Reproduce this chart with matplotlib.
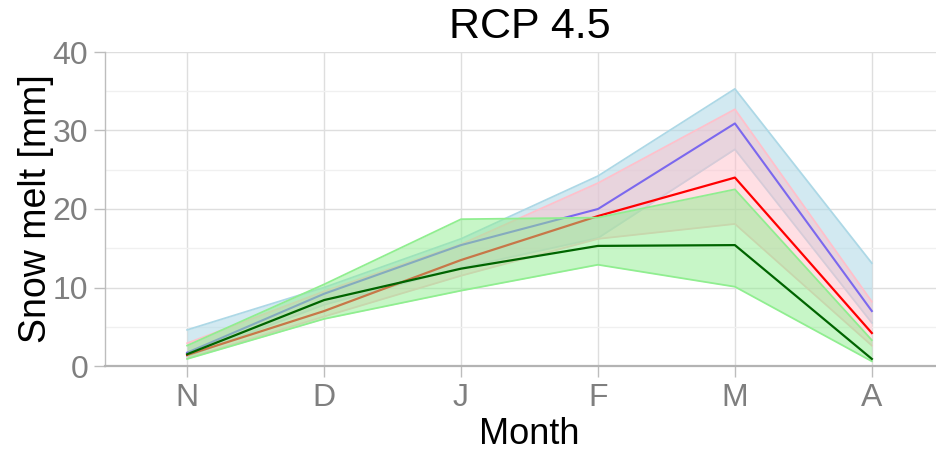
import numpy as np
import matplotlib.pyplot as plt
from matplotlib.ticker import MultipleLocator

# ----------------------------------------------------------------------
# Monthly snow melt, RCP 4.5 (median + range for three model groups)
# ----------------------------------------------------------------------
months = ["N", "D", "J", "F", "M", "A"]

purple_mid = [1.7, 9.2, 15.4, 20.0, 30.9, 7.0]
blue_low = [1.2, 7.8, 12.5, 16.3, 27.6, 5.5]
blue_high = [4.6, 10.0, 16.2, 24.2, 35.3, 13.1]

red_mid = [1.4, 7.0, 13.5, 19.1, 24.0, 4.2]
pink_low = [1.0, 6.3, 11.5, 16.2, 18.1, 2.6]
pink_high = [2.9, 9.5, 15.5, 23.3, 32.7, 8.2]

green_mid = [1.5, 8.4, 12.4, 15.3, 15.4, 0.9]
green_low = [0.9, 6.0, 9.6, 12.9, 10.1, 0.6]
green_high = [2.6, 10.4, 18.7, 18.9, 22.5, 3.3]

plt.rcParams["font.family"] = ["Liberation Sans", "DejaVu Sans"]

fig = plt.figure(figsize=(9.37, 4.53), dpi=100)
ax = fig.add_axes([105 / 937, 87 / 453, 849 / 937, 314 / 453])

x = np.arange(1, len(months) + 1)


def ribbon(lo, hi, color, alpha=0.5):
    ax.fill_between(x, lo, hi, color=color, alpha=alpha, lw=0, zorder=2)
    ax.plot(x, lo, color=color, lw=1.3, zorder=2)
    ax.plot(x, hi, color=color, lw=1.3, zorder=2)


ribbon(blue_low, blue_high, "lightblue", 0.55)
ribbon(pink_low, pink_high, "pink", 0.5)
ax.plot(x, purple_mid, color="mediumslateblue", lw=1.5, zorder=2)
ax.plot(x, red_mid, color="red", lw=1.6, zorder=2)
ribbon(green_low, green_high, "lightgreen", 0.5)
ax.plot(x, green_mid, color="darkgreen", lw=1.6, zorder=3)

ax.set_xlim(0.4, 6.6)
ax.set_ylim(0, 40)
ax.set_xticks(x)
ax.set_xticklabels(months)
ax.yaxis.set_major_locator(MultipleLocator(10))
ax.yaxis.set_minor_locator(MultipleLocator(5))

ax.grid(which="major", color="#dedede", lw=1.0, zorder=0)
ax.grid(which="minor", axis="y", color="#f0f0f0", lw=1.0, zorder=0)
ax.set_axisbelow(True)

for side in ["top", "right"]:
    ax.spines[side].set_visible(False)
ax.spines["left"].set_color("#bdbdbd")
ax.spines["left"].set_linewidth(1.0)
ax.spines["bottom"].set_color("#b3b3b3")
ax.spines["bottom"].set_linewidth(1.6)

ax.tick_params(which="major", length=8, width=1.0, color="#bdbdbd",
               labelsize=23, labelcolor="#7f7f7f", pad=4)
ax.tick_params(which="minor", length=0)

ax.set_title("RCP 4.5", fontsize=31, color="black", pad=10)
ax.set_xlabel("Month", fontsize=26, color="black", labelpad=3)
ax.set_ylabel("Snow melt [mm]", fontsize=27, color="black", labelpad=-1)

fig.savefig("out.png", dpi=100)
